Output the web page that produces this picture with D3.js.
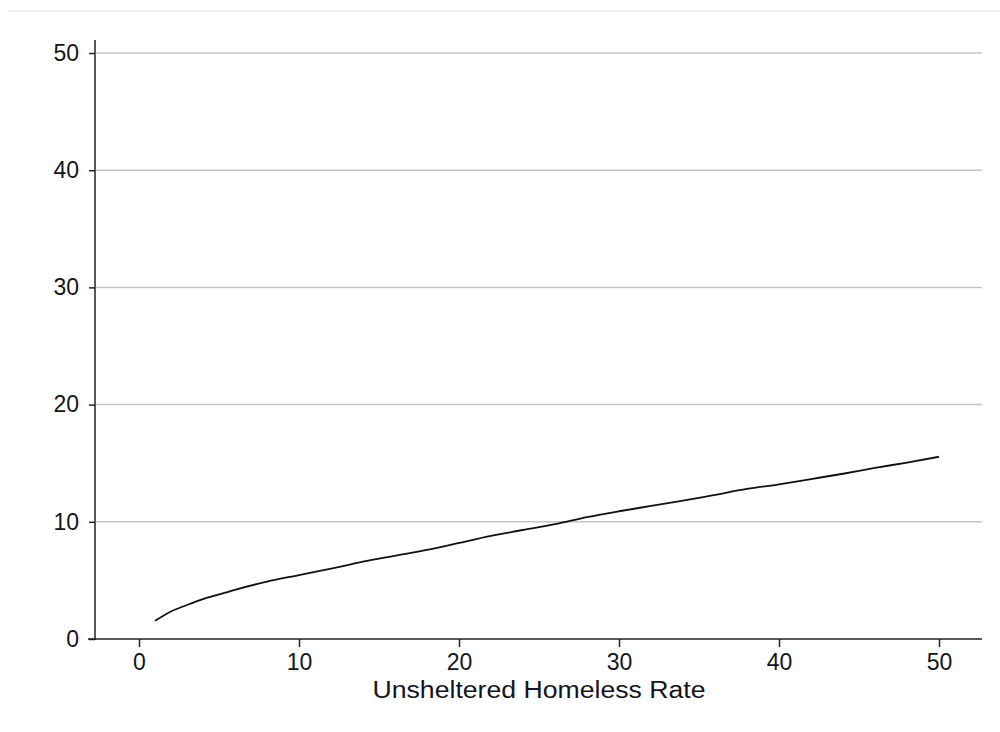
<!DOCTYPE html>
<html>
<head>
<meta charset="utf-8">
<script src="https://cdn.jsdelivr.net/npm/d3@7"></script>
<style>
  html, body { margin: 0; padding: 0; background: #ffffff; }
  svg { display: block; }
  text { font-family: "Liberation Sans", Arial, sans-serif; fill: #141420; }
</style>
</head>
<body>
<svg id="chart" width="1000" height="732"></svg>
<script>
// ---- data ----
const rateX = [1, 2, 3, 4, 5, 6, 8, 10, 12, 14, 16, 18, 20, 22, 24, 26, 28, 30, 32, 34, 36, 38, 40, 42, 44, 46, 48, 50];
const fittedY = [1.55, 2.35, 2.9, 3.4, 3.8, 4.2, 4.9, 5.45, 6.0, 6.6, 7.1, 7.6, 8.2, 8.8, 9.3, 9.8, 10.4, 10.9, 11.35, 11.8, 12.3, 12.8, 13.2, 13.65, 14.1, 14.6, 15.05, 15.55];
const xTicks = [0, 10, 20, 30, 40, 50];
const yTicks = [0, 10, 20, 30, 40, 50];
const xTitle = "Unsheltered Homeless Rate";

const svg = d3.select("#chart");

// top separator line
svg.append("line")
  .attr("x1", 8).attr("x2", 1000).attr("y1", 11).attr("y2", 11)
  .attr("stroke", "#eef3f7").attr("stroke-width", 2);

const x = d3.scaleLinear().domain([0, 50]).range([139, 939]);
const y = d3.scaleLinear().domain([0, 50]).range([639, 53]);

const xLeft = 95, xRight = 982, yTop = 40, yBottom = 639;

// gridlines
svg.append("g").selectAll("line")
  .data(yTicks.filter(d => d > 0))
  .join("line")
  .attr("x1", xLeft + 1).attr("x2", xRight)
  .attr("y1", d => y(d)).attr("y2", d => y(d))
  .attr("stroke", "#c4c4c4").attr("stroke-width", 1.5);

// y axis
const yAxis = d3.axisLeft(y).tickValues(yTicks).tickSize(6).tickPadding(10).tickFormat(d3.format("d"));
const gy = svg.append("g").attr("transform", `translate(${xLeft},0)`).call(yAxis);
gy.select(".domain").remove();
gy.selectAll(".tick line").attr("stroke", "#222").attr("stroke-width", 1.5);
gy.selectAll(".tick text").style("font-size", "23px").attr("fill", "#141420");
gy.append("line").attr("x1", 0).attr("x2", 0).attr("y1", yTop).attr("y2", yBottom + 1)
  .attr("stroke", "#222").attr("stroke-width", 1.5);

// x axis
const xAxis = d3.axisBottom(x).tickValues(xTicks).tickSize(8).tickPadding(7).tickFormat(d3.format("d"));
const gx = svg.append("g").attr("transform", `translate(0,${yBottom})`).call(xAxis);
gx.select(".domain").remove();
gx.selectAll(".tick line").attr("stroke", "#222").attr("stroke-width", 1.5);
gx.selectAll(".tick text").style("font-size", "23px").attr("fill", "#141420");
gx.append("line").attr("x1", 88).attr("x2", xRight).attr("y1", 0).attr("y2", 0)
  .attr("stroke", "#222").attr("stroke-width", 1.5);

// x title
svg.append("text")
  .attr("x", 539).attr("y", 698)
  .attr("text-anchor", "middle")
  .attr("textLength", 333)
  .attr("lengthAdjust", "spacingAndGlyphs")
  .style("font-size", "23px")
  .text(xTitle);

// fitted line
const line = d3.line().x((d, i) => x(rateX[i])).y(d => y(d)).curve(d3.curveMonotoneX);
svg.append("path")
  .datum(fittedY)
  .attr("d", line)
  .attr("fill", "none")
  .attr("stroke", "#111")
  .attr("stroke-width", 1.8);
</script>
</body>
</html>
